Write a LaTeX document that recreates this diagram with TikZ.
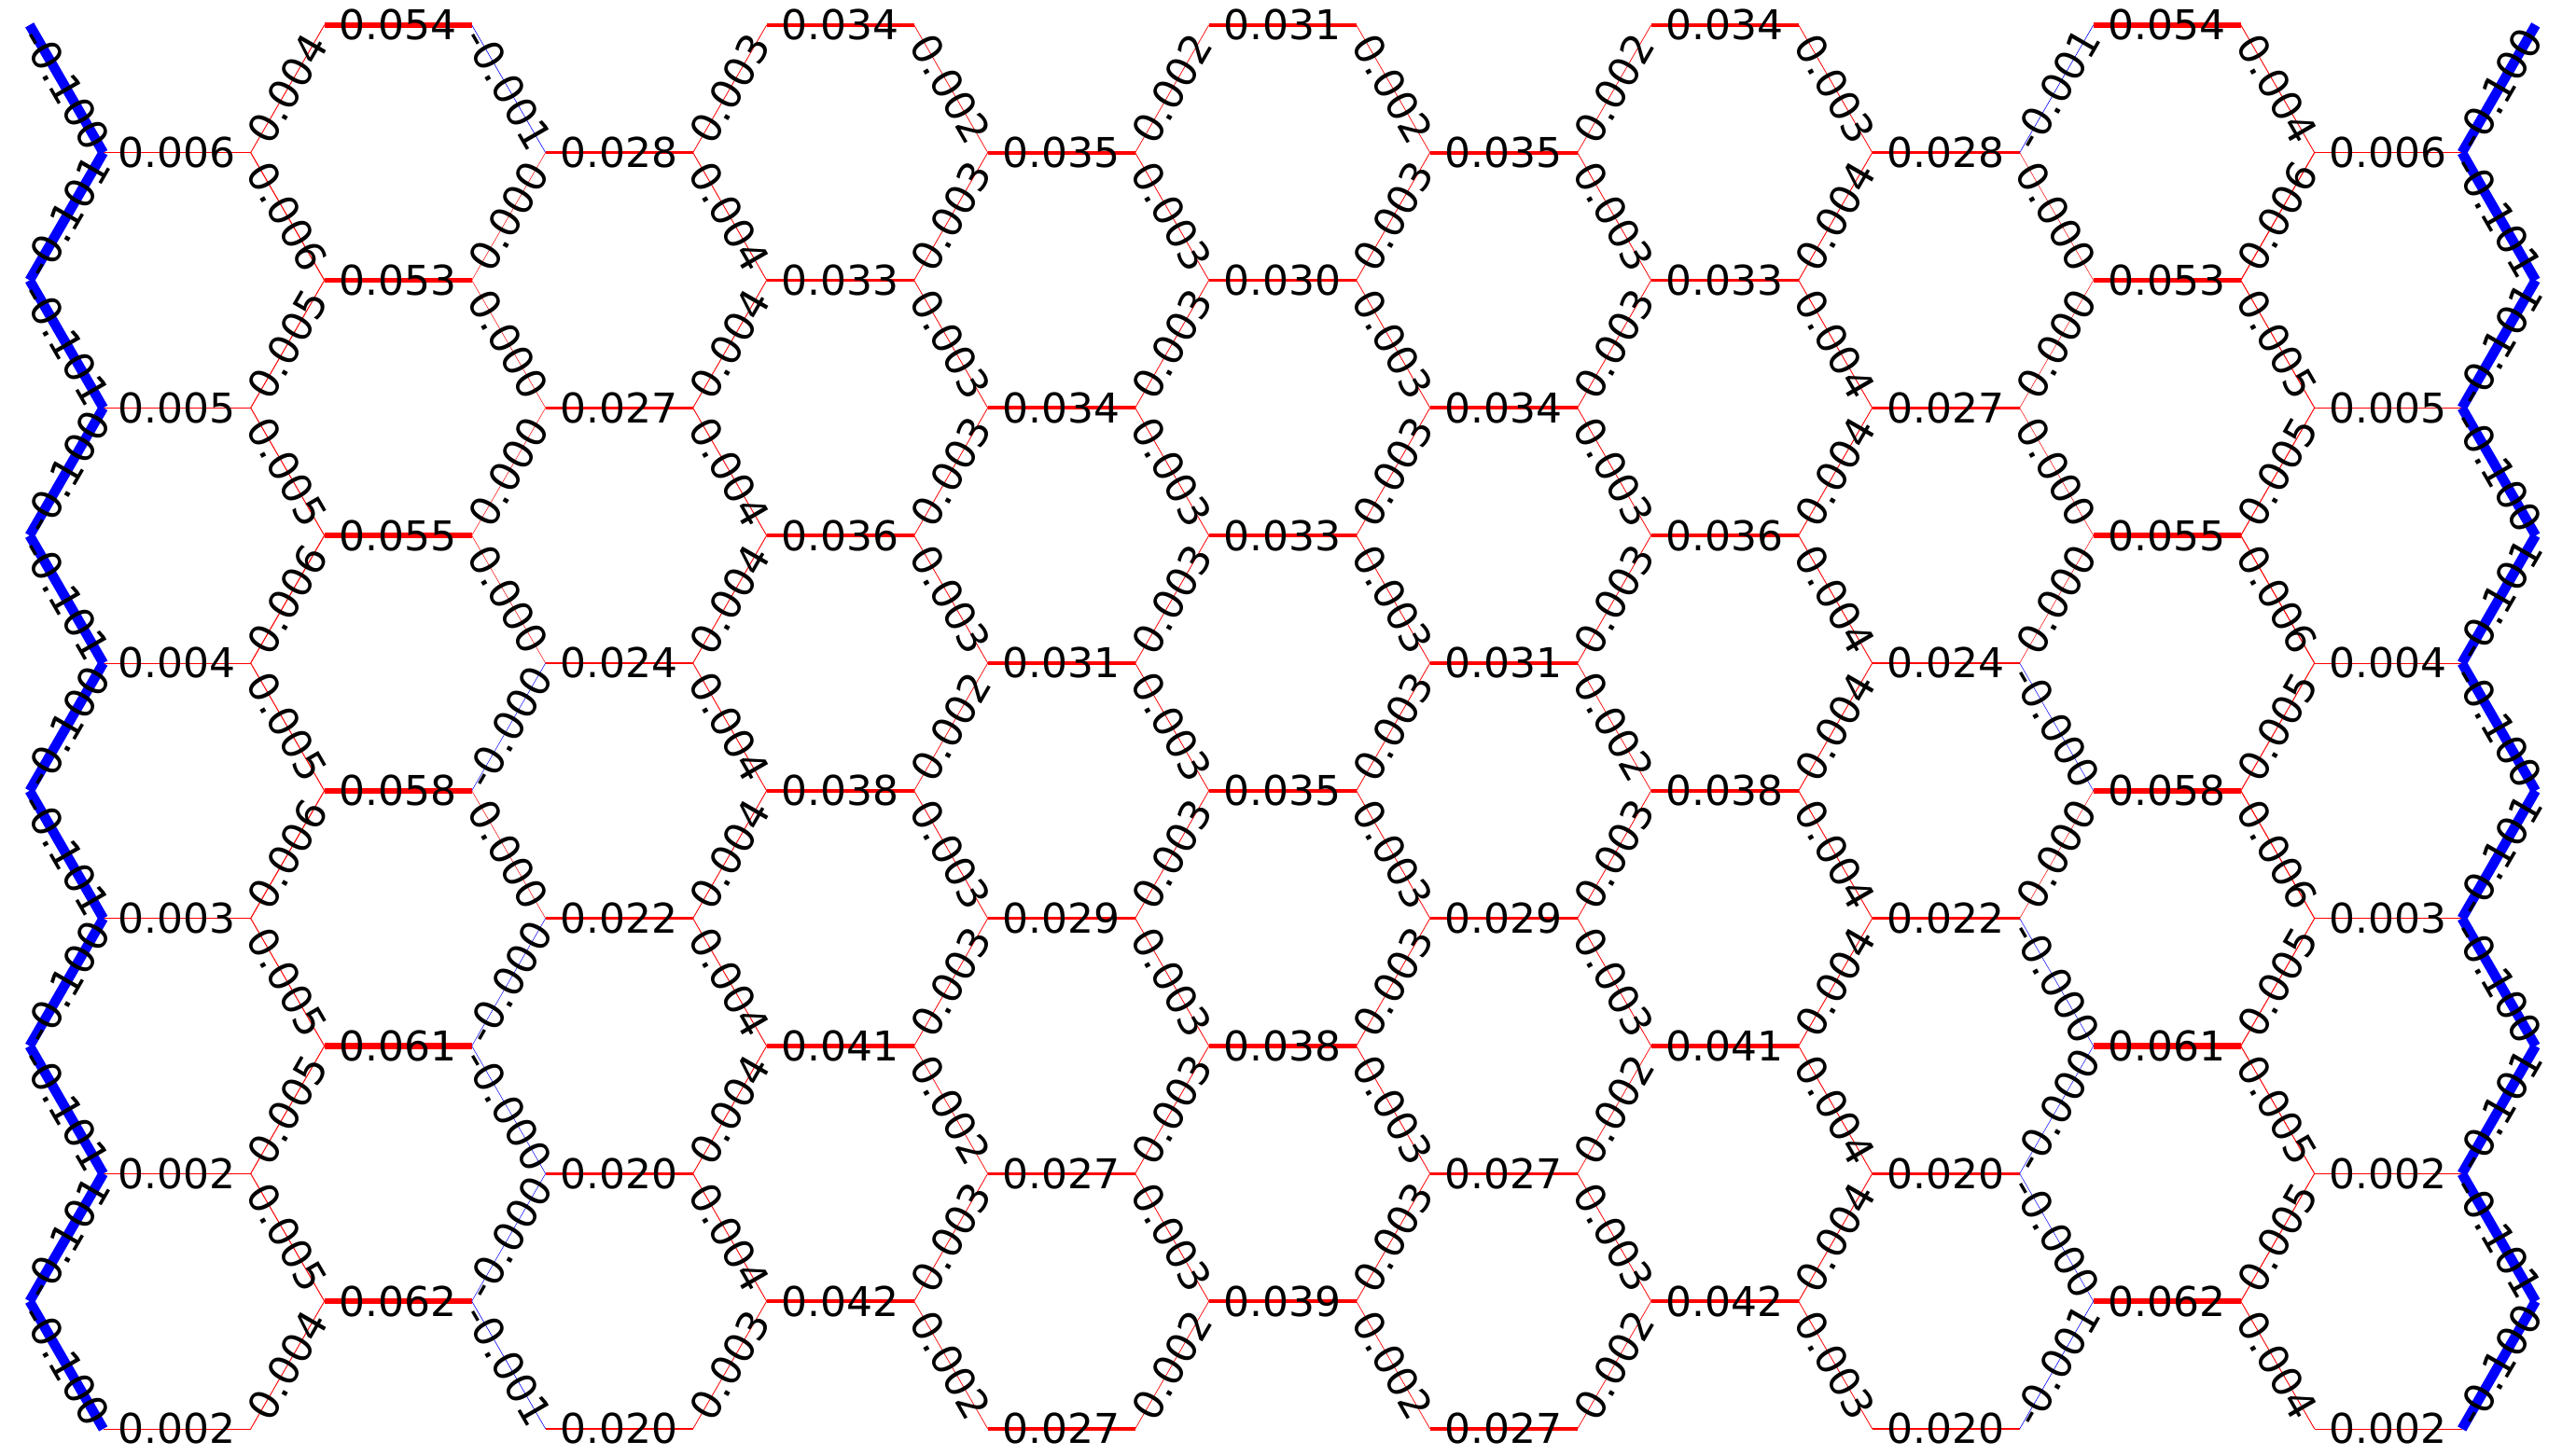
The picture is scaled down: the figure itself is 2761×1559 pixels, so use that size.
\documentclass[tikz,border=0pt]{standalone}
\usepackage{fontspec}
\setmainfont{DejaVu Sans}
\newif\iflabels
\newcommand\prefp{}
\newcommand\prefn{-}
% #1 from, #2 to, #3 sign p/n, #4 magnitude, #5 label angle
\newcommand\doedge[5]{%
  \iflabels
    \path (#1) -- (#2) node[lbl,midway,rotate=#5]{\csname pref#3\endcsname#4};%
  \else
    \pgfmathsetmacro\w{0.5+100*#4}%
    \draw[ecol-#3,line width=\w pt] (#1) -- (#2);%
  \fi}
\newcommand\hrow[2]{%
  \foreach \a/\v in {#2}{%
    \pgfmathtruncatemacro\b{\a+2}%
    \doedge{v#1-\a}{v#1-\b}{p}{\v}{0}}}
\newcommand\dcol[3]{%
  \foreach \s/\v [count=\gi from 0] in {#3}{%
    \pgfmathtruncatemacro\lo{\gi+1}%
    \ifodd\gi \def\ua{#2}\def\la{#1}\else \def\ua{#1}\def\la{#2}\fi
    \pgfmathsetmacro\ang{ifthenelse(\ua<\la,-60,60)}%
    \doedge{v\gi-\ua}{v\lo-\la}{\s}{\v}{\ang}}}
\newcommand\alledges{%
  \hrow{0}{4/0.054,10/0.034,16/0.031,22/0.034,28/0.054}
  \hrow{1}{1/0.006,7/0.028,13/0.035,19/0.035,25/0.028,31/0.006}
  \hrow{2}{4/0.053,10/0.033,16/0.030,22/0.033,28/0.053}
  \hrow{3}{1/0.005,7/0.027,13/0.034,19/0.034,25/0.027,31/0.005}
  \hrow{4}{4/0.055,10/0.036,16/0.033,22/0.036,28/0.055}
  \hrow{5}{1/0.004,7/0.024,13/0.031,19/0.031,25/0.024,31/0.004}
  \hrow{6}{4/0.058,10/0.038,16/0.035,22/0.038,28/0.058}
  \hrow{7}{1/0.003,7/0.022,13/0.029,19/0.029,25/0.022,31/0.003}
  \hrow{8}{4/0.061,10/0.041,16/0.038,22/0.041,28/0.061}
  \hrow{9}{1/0.002,7/0.020,13/0.027,19/0.027,25/0.020,31/0.002}
  \hrow{10}{4/0.062,10/0.042,16/0.039,22/0.042,28/0.062}
  \hrow{11}{1/0.002,7/0.020,13/0.027,19/0.027,25/0.020,31/0.002}
  % diagonal columns: even-row index, odd-row index, values per gap
  \dcol{0}{1}{n/0.100,n/0.101,n/0.101,n/0.100,n/0.101,n/0.100,n/0.101,n/0.100,n/0.101,n/0.101,n/0.100}
  \dcol{4}{3}{p/0.004,p/0.006,p/0.005,p/0.005,p/0.006,p/0.005,p/0.006,p/0.005,p/0.005,p/0.005,p/0.004}
  \dcol{6}{7}{n/0.001,p/0.000,p/0.000,p/0.000,p/0.000,n/0.000,p/0.000,n/0.000,n/0.000,n/0.000,n/0.001}
  \dcol{10}{9}{p/0.003,p/0.004,p/0.004,p/0.004,p/0.004,p/0.004,p/0.004,p/0.004,p/0.004,p/0.004,p/0.003}
  \dcol{12}{13}{p/0.002,p/0.003,p/0.003,p/0.003,p/0.003,p/0.002,p/0.003,p/0.003,p/0.002,p/0.003,p/0.002}
  \dcol{16}{15}{p/0.002,p/0.003,p/0.003,p/0.003,p/0.003,p/0.003,p/0.003,p/0.003,p/0.003,p/0.003,p/0.002}
  \dcol{18}{19}{p/0.002,p/0.003,p/0.003,p/0.003,p/0.003,p/0.003,p/0.003,p/0.003,p/0.003,p/0.003,p/0.002}
  \dcol{22}{21}{p/0.002,p/0.003,p/0.003,p/0.003,p/0.003,p/0.002,p/0.003,p/0.003,p/0.002,p/0.003,p/0.002}
  \dcol{24}{25}{p/0.003,p/0.004,p/0.004,p/0.004,p/0.004,p/0.004,p/0.004,p/0.004,p/0.004,p/0.004,p/0.003}
  \dcol{28}{27}{n/0.001,p/0.000,p/0.000,p/0.000,p/0.000,n/0.000,p/0.000,n/0.000,n/0.000,n/0.000,n/0.001}
  \dcol{30}{31}{p/0.004,p/0.006,p/0.005,p/0.005,p/0.006,p/0.005,p/0.006,p/0.005,p/0.005,p/0.005,p/0.004}
  \dcol{34}{33}{n/0.100,n/0.101,n/0.101,n/0.100,n/0.101,n/0.100,n/0.101,n/0.100,n/0.101,n/0.101,n/0.100}
}
\begin{document}
\begin{tikzpicture}[x=1pt,y=-1pt,
  lbl/.style={inner sep=0pt,font=\fontsize{44}{52}\selectfont,text=black},
  ecol-p/.style={draw=red},
  ecol-n/.style={draw=blue}]
\useasboundingbox (0,0) rectangle (2761,1559);
\foreach \k in {0,...,11}{%
  \ifodd\k
    \foreach \u in {1,3,7,9,13,15,19,21,25,27,31,33}{\coordinate (v\k-\u) at ({31.7+79*\u},{26.8+136.83*\k});}%
  \else
    \foreach \u in {0,4,6,10,12,16,18,22,24,28,30,34}{\coordinate (v\k-\u) at ({31.7+79*\u},{26.8+136.83*\k});}%
  \fi
}
\labelsfalse
\alledges
\labelstrue
\alledges
\end{tikzpicture}
\end{document}
